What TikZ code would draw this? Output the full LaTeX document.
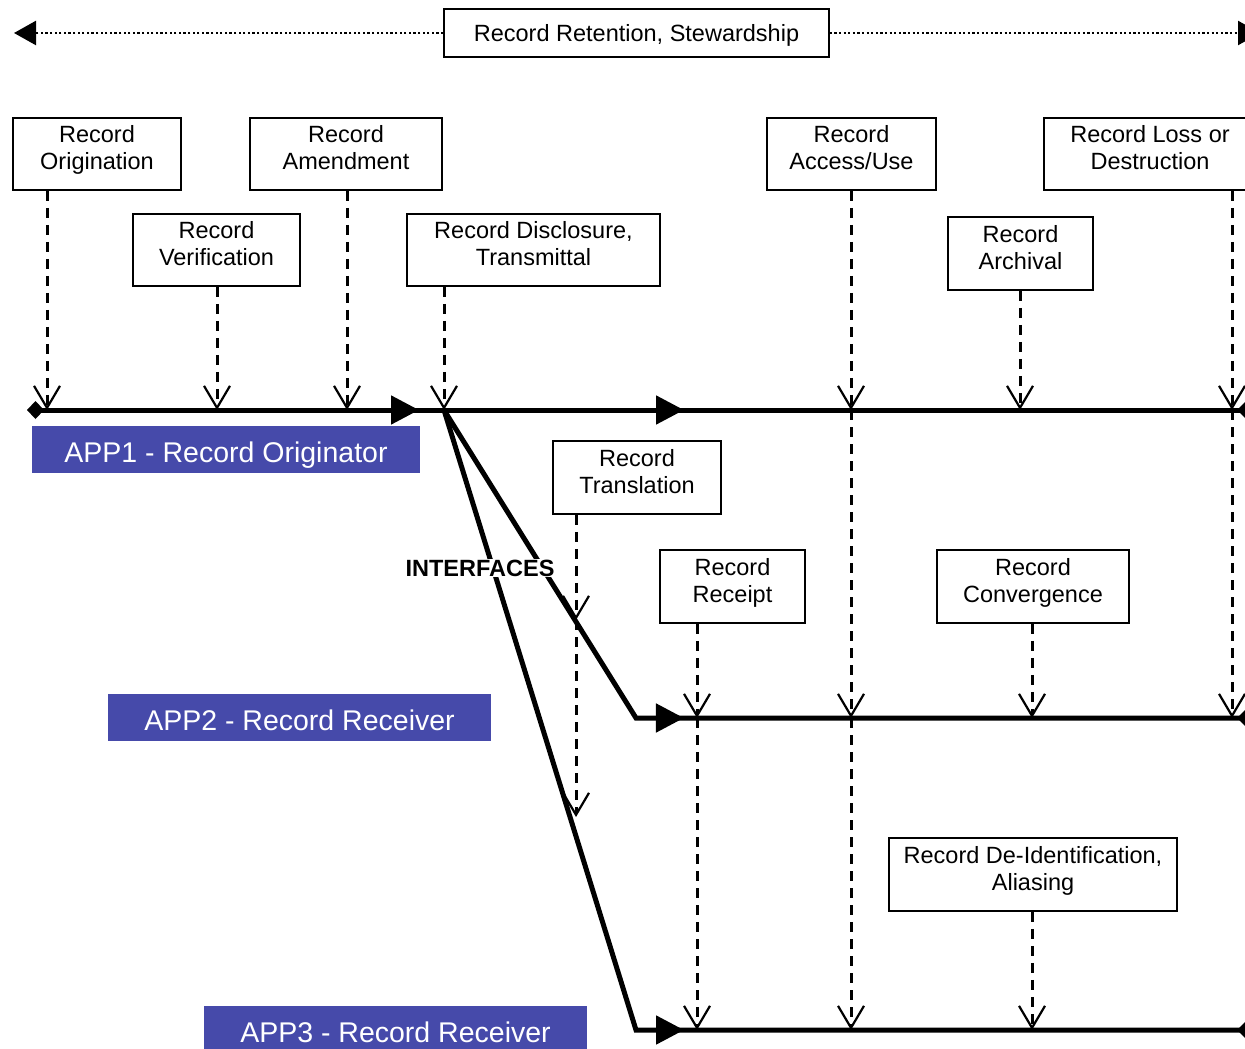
\documentclass[tikz,border=0pt]{standalone}
\usepackage{fontspec}
\setmainfont{Liberation Sans}
\usetikzlibrary{arrows.meta,decorations.markings}
\definecolor{appblue}{RGB}{70,74,170}
\newcommand\lowst{\rule[-13pt]{0pt}{13pt}}
\newcommand\applbl[1]{\raisebox{-3pt}{#1}}
\begin{document}
\begin{tikzpicture}[x=1pt,y=-1pt,
  box/.style={draw, line width=1.5pt, align=center, inner sep=0pt, font=\fontsize{23.5}{27}\selectfont},
  app/.style={fill=appblue, text=white, inner sep=0pt, minimum height=47pt, font=\fontsize{28.5}{32}\selectfont, text height=20pt, text depth=0pt},
  tl/.style={line width=5pt},
  enddia/.style={tl, -{Diamond[length=18pt,width=18pt]}},
  midtri/.style={decorate, decoration={markings, mark=at position #1 with {\arrow[line width=5pt]{Triangle[length=28pt,width=28pt]}}}},
  ev/.style={line width=3pt, dash pattern=on 10pt off 7pt, -{Straight Barb[length=22pt,width=26pt,line width=2.2pt]}},
  dotline/.style={line width=2.4pt, dash pattern=on 2.3pt off 2.3pt, -{Triangle[length=22pt,width=24pt]}}
]
\useasboundingbox (0,0) rectangle (1245,1049);

% boxes
\node[box, minimum width=385pt, minimum height=48pt, text depth=0pt] (ret) at (636.5,33) {Record Retention, Stewardship};
\node[box, minimum width=168pt, minimum height=72pt] (orig) at (97,154) {Record\\Origination\lowst};
\node[box, minimum width=167pt, minimum height=72pt] (ver) at (216.5,250) {Record\\Verification\lowst};
\node[box, minimum width=192pt, minimum height=72pt] (amd) at (346,154) {Record\\Amendment\lowst};
\node[box, minimum width=253pt, minimum height=72pt] (dis) at (533.5,250) {Record Disclosure,\\Transmittal\lowst};
\node[box, minimum width=169pt, minimum height=72pt] (acc) at (851.5,154) {Record\\Access/Use\lowst};
\node[box, minimum width=212pt, minimum height=72pt] (loss) at (1150,154) {Record Loss or\\Destruction\lowst};
\node[box, minimum width=145pt, minimum height=73pt] (arch) at (1020.5,253.5) {Record\\Archival\lowst};
\node[box, minimum width=168pt, minimum height=73pt] (trans) at (637,477.5) {Record\\Translation\lowst};
\node[box, minimum width=145pt, minimum height=73pt] (rec) at (732.5,586.5) {Record\\Receipt\lowst};
\node[box, minimum width=192pt, minimum height=73pt] (conv) at (1033,586.5) {Record\\Convergence\lowst};
\node[box, minimum width=288pt, minimum height=73pt] (deid) at (1033,874.5) {Record De-Identification,\\Aliasing\lowst};

% application labels
\node[app, minimum width=388pt] (app1) at (226,449.5) {\applbl{APP1 - Record Originator}};
\node[app, minimum width=383pt] (app2) at (299.5,717.5) {\applbl{APP2 - Record Receiver}};
\node[app, minimum width=383pt] (app3) at (395.5,1029.5) {\applbl{APP3 - Record Receiver}};

% timeline points
\coordinate (a1s) at (27,410);
\coordinate (o1) at (47,410);
\coordinate (v1) at (217,410);
\coordinate (am1) at (347,410);
\coordinate (d1) at (444,410);
\coordinate (ac1) at (851,410);
\coordinate (ar1) at (1020,410);
\coordinate (l1) at (1232,410);
\coordinate (a1e) at (1255,410);
\coordinate (k2) at (636,718);
\coordinate (r2) at (697,718);
\coordinate (ac2) at (851,718);
\coordinate (c2) at (1032,718);
\coordinate (l2) at (1232,718);
\coordinate (a2e) at (1255,718);
\coordinate (k3) at (636,1030);
\coordinate (r3) at (697,1030);
\coordinate (ac3) at (851,1030);
\coordinate (de3) at (1032,1030);
\coordinate (a3e) at (1255,1030);
\coordinate (t2) at (576,620);
\coordinate (t3) at (576,817);
\coordinate (lt) at (14,33);
\coordinate (rt) at (1260,33);

% top retention arrow
\draw[dotline] (ret.west) -- (lt);
\draw[dotline] (ret.east) -- (rt);

% timelines
\draw[tl, {Diamond[length=17pt,width=18pt]}-{Diamond[length=18pt,width=18pt]}] (a1s) -- (a1e);
\path[midtri=392pt] (a1s) -- (a1e);
\path[midtri=657pt] (a1s) -- (a1e);
\draw[enddia] (d1) -- (k2) -- (a2e);
\path[midtri=410.9pt] (d1) -- (k2) -- (a2e);
\draw[enddia] (d1) -- (k3) -- (a3e);
\path[midtri=697.05pt] (d1) -- (k3) -- (a3e);

% event connectors
\draw[ev] (orig.south -| o1) -- (o1);
\draw[ev] (ver.south -| v1) -- (v1);
\draw[ev] (amd.south -| am1) -- (am1);
\draw[ev] (dis.south -| d1) -- (d1);
\draw[ev] (acc.south -| ac1) -- (ac1);
\draw[ev] (ac1) -- (ac2);
\draw[ev] (ac2) -- (ac3);
\draw[ev] (arch.south -| ar1) -- (ar1);
\draw[ev] (loss.south -| l1) -- (l1);
\draw[ev] (l1) -- (l2);
\draw[ev] (trans.south -| t2) -- (t2);
\draw[ev] (t2) -- (t3);
\draw[ev] (rec.south -| r2) -- (r2);
\draw[ev] (r2) -- (r3);
\draw[ev] (conv.south -| c2) -- (c2);
\draw[ev] (deid.south -| de3) -- (de3);

\node[fill=white, inner sep=1pt, font=\fontsize{23.5}{27}\selectfont\bfseries, text depth=0pt] (intf) at (480,568) {INTERFACES};
\end{tikzpicture}
\end{document}
